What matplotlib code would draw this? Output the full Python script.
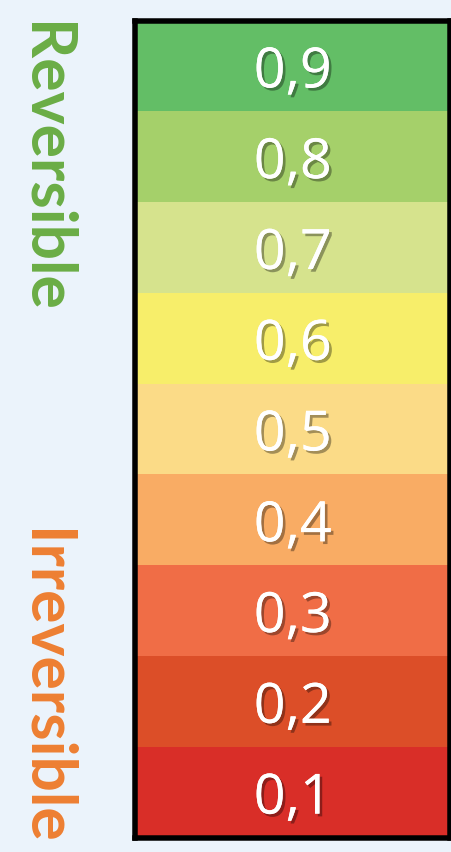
import matplotlib.pyplot as plt
import matplotlib.patheffects as pe

labels = ['0,1', '0,2', '0,3', '0,4', '0,5', '0,6', '0,7', '0,8', '0,9']
colors = ['#D92E28', '#DC4E28', '#F06D46', '#F9AC64', '#FBDB87',
          '#F7EE6A', '#D6E38D', '#A5D06A', '#63BE66']
side_texts = ['Reversible', 'Irreversible']
side_colors = ['#6AAD45', '#EE7F32']

W, H = 452, 853
fig = plt.figure(figsize=(W / 100, H / 100), dpi=100)
fig.patch.set_facecolor('#EBF3FB')

# colour scale box (pixel edges converted to figure fractions)
left, right, top, bottom = 135, 450.5, 21.5, 838.5
ax = fig.add_axes([left / W, 1 - bottom / H, (right - left) / W, (bottom - top) / H])
for i, (lab, c) in enumerate(zip(labels, colors)):
    ax.bar(0, 1, bottom=i, width=1, color=c, linewidth=0)
    ax.text(0, i + 0.5, lab, ha='center', va='center_baseline', color='white',
            fontsize=40, family='Open Sans',
            path_effects=[pe.withSimplePatchShadow(offset=(2, -2), shadow_rgbFace='black', alpha=0.35),
                          pe.Normal()])
ax.set_xlim(-0.5, 0.5)
ax.set_ylim(0, len(labels))
ax.set_xticks([])
ax.set_yticks([])
for s in ax.spines.values():
    s.set_linewidth(3.96)
    s.set_color('black')

# vertical side labels
fig.text(44 / W, 1 - 167 / H, side_texts[0], rotation=-90, ha='center', va='center',
         color=side_colors[0], fontsize=45, fontweight='bold', family='Lato')
fig.text(44 / W, 1 - 687 / H, side_texts[1], rotation=-90, ha='center', va='center',
         color=side_colors[1], fontsize=45, fontweight='bold', family='Lato')

fig.savefig('out.png', dpi=100, facecolor=fig.get_facecolor())
